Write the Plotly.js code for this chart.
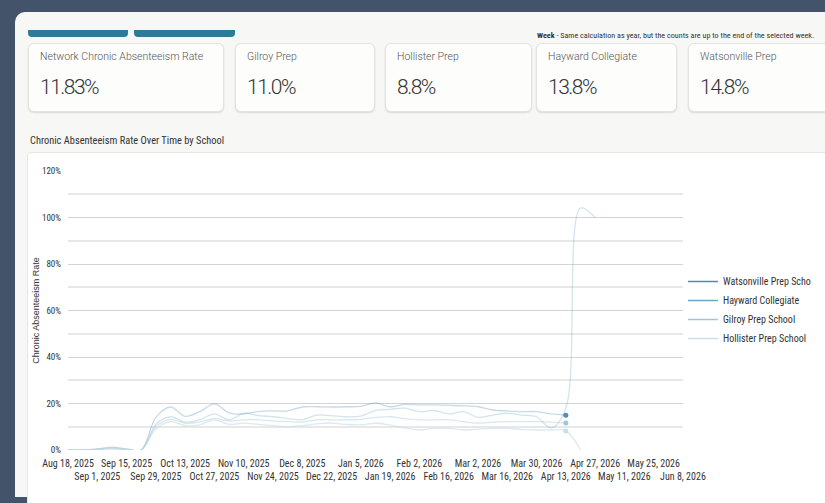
<!DOCTYPE html>
<html><head><meta charset="utf-8">
<script src="https://cdn.plot.ly/plotly-3.0.1.min.js"></script>
<style>
html,body{margin:0;padding:0;}
body{width:825px;height:503px;background:#435369;position:relative;overflow:hidden;font-family:Roboto,Lato,sans-serif;}
.inner{position:absolute;left:15px;top:12px;right:0;bottom:6px;background:#f7f7f6;border-top-left-radius:10px;}
.tab{position:absolute;top:30px;height:7px;background:#2f7a99;border-radius:0 0 4px 4px;}
.card{position:absolute;top:43px;height:69px;background:#fdfdfc;border:1px solid #e3e3e3;border-radius:6px;box-shadow:0 1px 2px rgba(0,0,0,0.12);box-sizing:border-box;}
.ct{position:absolute;left:11px;top:6px;font-size:10.5px;line-height:14px;color:#555;font-weight:300;white-space:nowrap;}
.cv{position:absolute;left:11px;top:30px;font-size:21px;line-height:27px;color:#333;font-weight:300;white-space:nowrap;letter-spacing:-1.5px;}
.week{position:absolute;left:537px;top:30px;font-size:8.1px;color:#333;white-space:nowrap;font-family:"Liberation Sans Narrow","Roboto Condensed",Roboto,sans-serif;}
.ctitle{position:absolute;left:30px;top:134px;font-size:10.4px;color:#333;font-family:"Liberation Sans Narrow","Roboto Condensed",Roboto,sans-serif;white-space:nowrap;}
.panel{position:absolute;left:27px;top:152px;width:800px;height:350px;background:#fff;border:1px solid #e6e6e6;border-top-left-radius:4px;}
#chart{position:absolute;left:27px;top:152px;width:798px;height:345px;}
</style></head>
<body>
<div class="inner"></div>
<div class="tab" style="left:28px;width:100px"></div>
<div class="tab" style="left:134px;width:101px"></div>
<div class="week"><b>Week</b> - Same calculation as year, but the counts are up to the end of the selected week.</div>
<div id="cards"></div>
<div class="ctitle">Chronic Absenteeism Rate Over Time by School</div>
<div class="panel"></div>
<div id="chart"></div>
<script>
// ---- card data ----
const cardLabels = ["Network Chronic Absenteeism Rate", "Gilroy Prep", "Hollister Prep", "Hayward Collegiate", "Watsonville Prep"];
const cardValues = ["11.83%", "11.0%", "8.8%", "13.8%", "14.8%"];

// ---- chart data (percent) ----
const weeks = ["2025-08-18","2025-08-25","2025-09-01","2025-09-08","2025-09-15","2025-09-22","2025-09-29","2025-10-06","2025-10-13","2025-10-20","2025-10-27","2025-11-03","2025-11-10","2025-11-17","2025-11-24","2025-12-01","2025-12-08","2025-12-15","2025-12-22","2025-12-29","2026-01-05","2026-01-12","2026-01-19","2026-01-26","2026-02-02","2026-02-09","2026-02-16","2026-02-23","2026-03-02","2026-03-09","2026-03-16","2026-03-23","2026-03-30","2026-04-06","2026-04-13","2026-04-20","2026-04-27"];
const seriesNames = ["Watsonville Prep Scho", "Hayward Collegiate", "Gilroy Prep School", "Hollister Prep School"];
const watsonville = [0,0,0.5,1.2,0.5,0,14,18.5,14.5,16.5,19.8,16,15.5,16.5,16.8,16.8,18.5,18.6,18.5,18.6,18.8,20.3,18.6,19.6,19.4,19.4,19.2,19,18.6,17.2,16.8,16.5,16.5,15.5,15,null,null];
const hayward = [0,0,0.3,0.8,0.3,0,11,14.3,12,13,15.5,13,15.8,14.8,14.3,13.5,13,15,14.8,14.3,14.6,17,17.5,18,16.5,17,15.5,16.5,14,15,15.8,15,14.3,9.5,18,104,100];
const gilroy = [0,0,0.3,0.6,0.2,0,10,13.2,11.5,12,13.5,12.5,13,13,12.5,12.2,12,13,13,13,13.2,14,14.3,13.5,13,13,13,12.2,11.6,12,12.2,12.2,12.2,12,11.6,null,null];
const hollister = [0,0,0.2,0.5,0.2,0,9,12.2,10.5,10.8,13,11,11.6,11,10.5,10,10.5,11.2,11.6,11,10.8,11.5,10.7,9.5,8.6,9.3,9.3,8.6,9,9.3,9.3,8.8,8.6,8.6,8.2,0,null];
const currentWeek = "2026-04-13";
const tickDates = ["2025-08-18","2025-09-01","2025-09-15","2025-09-29","2025-10-13","2025-10-27","2025-11-10","2025-11-24","2025-12-08","2025-12-22","2026-01-05","2026-01-19","2026-02-02","2026-02-16","2026-03-02","2026-03-16","2026-03-30","2026-04-13","2026-04-27","2026-05-11","2026-05-25","2026-06-08"];
const tickLabels = ["Aug 18, 2025","Sep 1, 2025","Sep 15, 2025","Sep 29, 2025","Oct 13, 2025","Oct 27, 2025","Nov 10, 2025","Nov 24, 2025","Dec 8, 2025","Dec 22, 2025","Jan 5, 2026","Jan 19, 2026","Feb 2, 2026","Feb 16, 2026","Mar 2, 2026","Mar 16, 2026","Mar 30, 2026","Apr 13, 2026","Apr 27, 2026","May 11, 2026","May 25, 2026","Jun 8, 2026"];

// ---- cards ----
const cardPos = [[28,196],[235,140],[385,147],[536,141],[688,150]];
const cardsDiv = document.getElementById('cards');
cardLabels.forEach((lab, i) => {
  const c = document.createElement('div');
  c.className = 'card';
  c.style.left = cardPos[i][0] + 'px';
  c.style.width = cardPos[i][1] + 'px';
  c.innerHTML = '<div class="ct">' + lab + '</div><div class="cv">' + cardValues[i] + '</div>';
  cardsDiv.appendChild(c);
});

// ---- chart ----
const allSeries = [watsonville, hayward, gilroy, hollister];
const fullColors = ['#4e8fb0', '#6ea4be', '#9fc6d6', '#c7dfe8'];
const faintColors = ['rgba(78,143,176,0.32)', 'rgba(110,164,190,0.3)', 'rgba(159,198,214,0.4)', 'rgba(199,223,232,0.65)'];
const chartFont = '"Liberation Sans Narrow","Roboto Condensed",Roboto,sans-serif';

const traces = [];
allSeries.forEach((s, i) => {
  traces.push({x: weeks, y: s, type: 'scatter', mode: 'lines', name: seriesNames[i], showlegend: false,
    line: {color: faintColors[i], width: 1.3, shape: 'spline', smoothing: 1}, hoverinfo: 'skip'});
});
// current-week markers (series that end at the selected week)
const markIdx = weeks.indexOf(currentWeek);
const markSeries = [0, 2, 3];
traces.push({x: markSeries.map(() => currentWeek), y: markSeries.map(i => allSeries[i][markIdx]),
  type: 'scatter', mode: 'markers', showlegend: false, hoverinfo: 'skip',
  marker: {size: 5, color: markSeries.map(i => fullColors[i])}});
// legend entries
seriesNames.forEach((n, i) => {
  traces.push({x: [null], y: [null], type: 'scatter', mode: 'lines', name: n,
    line: {color: fullColors[i], width: 1.5}});
});

const layout = {
  width: 798, height: 345,
  margin: {l: 41, r: 130, t: 19, b: 47},
  paper_bgcolor: 'rgba(0,0,0,0)', plot_bgcolor: 'rgba(0,0,0,0)',
  font: {family: chartFont, size: 10, color: '#333'},
  showlegend: true,
  legend: {xref: 'container', yref: 'container', x: 0.822, xanchor: 'left', y: 0.542, yanchor: 'middle',
    font: {family: chartFont, size: 10, color: '#333'},
    itemwidth: 30, tracegroupgap: 0, bgcolor: 'rgba(0,0,0,0)'},
  xaxis: {type: 'date', range: ['2025-08-18', '2026-06-08'], showgrid: false, zeroline: false, showline: false,
    tickmode: 'array', tickvals: tickDates, ticktext: tickLabels.map((t, i) => i % 2 ? '<br>' + t : t),
    tickangle: 0, ticklabelstandoff: 6, tickfont: {family: chartFont, size: 10, color: '#333'}, ticks: '', fixedrange: true, automargin: false},
  yaxis: {range: [0, 120], dtick: 20, ticksuffix: '%', showgrid: true, gridcolor: '#d4d4d4', gridwidth: 1,
    zeroline: false, showline: false, ticks: '', ticklabelstandoff: 6,
    tickfont: {family: chartFont, size: 9, color: '#333'},
    minor: {dtick: 10, showgrid: true, gridcolor: '#e8e8e8', gridwidth: 2},
    title: {text: 'Chronic Absenteeism Rate', font: {family: 'Liberation Sans, Arial, sans-serif', size: 9, color: '#333'}, standoff: 0},
    automargin: false, fixedrange: true}
};
Plotly.newPlot('chart', traces, layout, {displayModeBar: false, staticPlot: true});
</script>
</body></html>
